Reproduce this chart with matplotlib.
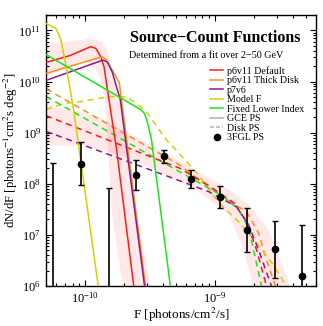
import matplotlib
matplotlib.use('Agg')
import matplotlib.pyplot as plt
from matplotlib.lines import Line2D
from matplotlib.ticker import NullFormatter

plt.rcParams['font.family'] = ['Liberation Serif', 'DejaVu Serif']
plt.rcParams['mathtext.fontset'] = 'stix'

# --- GCE PS source-count functions (solid) ---
default_F = [5.0e-11, 7.7e-11, 1.105e-10, 1.21e-10, 1.32e-10, 1.40e-10, 1.46e-10, 1.75e-10, 2.37e-10]
default_N = [2.36e10, 3.24e10, 4.8e10, 4.44e10, 3.05e10, 1.94e10, 9.4e9, 4.6e8, 1.0e6]

thick_F = [5.0e-11, 1.355e-10, 1.446e-10, 1.616e-10, 1.834e-10, 2.92e-10]
thick_N = [1.44e10, 3.05e10, 2.7e10, 1.67e10, 9.44e9, 1.0e6]

p7v6_F = [5.0e-11, 1.372e-10, 1.48e-10, 1.616e-10, 1.866e-10, 2.871e-10]
p7v6_N = [1.05e10, 2.62e10, 2.43e10, 1.55e10, 4.44e9, 1.0e6]

modelF_F = [5.0e-11, 5.97e-11, 6.53e-11, 6.91e-11, 7.55e-11, 8.24e-11, 1.263e-10]
modelF_N = [1.37e11, 1.09e11, 6.45e10, 3.05e10, 9.15e9, 2.36e9, 1.0e6]

fixed_F = [5.0e-11, 2.676e-10, 2.871e-10, 3.026e-10, 3.246e-10, 4.535e-10]
fixed_N = [3.38e10, 2.83e9, 2.36e9, 1.57e9, 7.3e8, 1.0e6]

# --- Disk PS source-count functions (dashed) ---
default_disk_F = [5.0e-11, 5.31e-10, 9.0e-10, 1.396e-9, 1.754e-9, 2.092e-9, 2.494e-9]
default_disk_N = [2.15e9, 2.03e8, 9.14e7, 4.24e7, 1.8e7, 5.08e6, 1.0e6]

thick_disk_F = [5.0e-11, 5.31e-10, 7.55e-10, 1.171e-9, 1.754e-9, 2.167e-9, 2.494e-9, 2.92e-9]
thick_disk_N = [7.2e9, 2.36e8, 1.2e8, 5.31e7, 2.83e7, 1.09e7, 3.24e6, 1.0e6]

p7v6_disk_F = [5.0e-11, 4.72e-10, 9.0e-10, 1.472e-9, 1.817e-9, 2.167e-9, 2.723e-9]
p7v6_disk_N = [1.06e9, 1.29e8, 6.97e7, 3.54e7, 1.57e7, 5.08e6, 1.0e6]

modelF_disk_F = [5.0e-11, 6.91e-11, 9.27e-11, 1.552e-10, 2.13e-10, 2.957e-10, 4.204e-10,
                 5.01e-10, 7.55e-10, 1.073e-9, 1.524e-9, 2.167e-9, 2.82e-9, 3.544e-9]
modelF_disk_N = [2.83e9, 3.7e9, 4.05e9, 5.08e9, 4.97e9, 2.62e9, 7.3e8,
                 4.64e8, 1.44e8, 4.24e7, 1.8e7, 6.37e6, 2.58e6, 1.0e6]

fixed_disk_F = [5.0e-11, 5.01e-10, 7.55e-10, 1.171e-9, 1.524e-9, 1.817e-9, 2.019e-9, 2.284e-9]
fixed_disk_N = [5.08e9, 1.88e8, 1.05e8, 5.56e7, 3.09e7, 1.37e7, 4.06e6, 1.0e6]

# --- uncertainty bands (p6v11 default) ---
gce_band_F = [5.0e-11, 1.105e-10, 1.355e-10, 1.48e-10, 1.571e-10, 1.85e-10, 2.48e-10, 3.19e-10,
              1.95e-10, 1.599e-10, 1.421e-10, 1.318e-10, 1.213e-10, 9.83e-11, 5.0e-11]
gce_band_N = [5.3e10, 6.97e10, 6.0e10, 4.11e10, 2.26e10, 4.44e9, 3.09e7, 1.0e6,
              1.0e6, 3.09e7, 4.44e9, 1.06e10, 1.72e10, 2.58e10, 1.25e10]

disk_band_F = [5.0e-11, 1.302e-10, 3.135e-10, 7.55e-10, 1.279e-9, 1.817e-9, 2.584e-9, 3.80e-9,
               1.984e-9, 1.607e-9, 1.279e-9, 7.55e-10, 3.737e-10, 1.85e-10, 9.16e-11, 5.0e-11]
disk_band_N = [3.7e9, 1.97e9, 5.82e8, 1.72e8, 7.63e7, 3.87e7, 1.25e7, 1.0e6,
               1.0e6, 6.37e6, 2.47e7, 6.97e7, 1.72e8, 3.71e8, 5.56e8, 5.56e8]

# --- 3FGL point sources ---
fgl_F = [9.27e-11, 2.48e-10, 4.08e-10, 6.59e-10, 1.086e-9, 1.764e-9, 2.885e-9, 4.72e-9]
fgl_N = [2.47e8, 1.5e8, 3.54e8, 1.25e8, 5.48e7, 1.25e7, 5.25e6, 1.57e6]
fgl_hi = [6.46e8, 2.96e8, 4.64e8, 1.88e8, 9.14e7, 3.34e7, 1.9e7, 1.57e7]
fgl_lo = [9.27e7, 7.63e7, 2.55e8, 8.24e7, 3.34e7, 4.71e6, 1.42e6, 1.0e5]

# bins with only an upper value
ul_F = [5.67e-11, 1.525e-10]
ul_hi = [2.55e8, 8.3e7]

x_ticks = [1e-10, 1e-9]
y_ticks = [1e6, 1e7, 1e8, 1e9, 1e10, 1e11]

c_red, c_orange, c_purple = '#ff1a1a', '#ff8c1a', '#8c1a8c'
c_yellow, c_green = '#d2d200', '#1ae61a'

fig = plt.figure(figsize=(3.23, 3.26), dpi=100)
ax = fig.add_axes([0.1424, 0.1227, 0.8359, 0.8313])
ax.set_xscale('log')
ax.set_yscale('log')

ax.fill(gce_band_F, gce_band_N, color='red', alpha=0.09, lw=0, zorder=1)
ax.fill(disk_band_F, disk_band_N, color='red', alpha=0.09, lw=0, zorder=1)

dash = (0, (4, 3))
lw = 1.1
for F, N, c in [(thick_disk_F, thick_disk_N, c_orange), (modelF_disk_F, modelF_disk_N, c_yellow),
                (fixed_disk_F, fixed_disk_N, c_green), (default_disk_F, default_disk_N, c_red),
                (p7v6_disk_F, p7v6_disk_N, c_purple)]:
    ax.plot(F, N, color=c, lw=lw, ls=dash, zorder=2)

l_def, = ax.plot(default_F, default_N, color=c_red, lw=lw, zorder=3)
l_thk, = ax.plot(thick_F, thick_N, color=c_orange, lw=lw, zorder=3)
l_p7, = ax.plot(p7v6_F, p7v6_N, color=c_purple, lw=lw, zorder=3)
l_mf, = ax.plot(modelF_F, modelF_N, color=c_yellow, lw=lw, zorder=3)
l_fx, = ax.plot(fixed_F, fixed_N, color=c_green, lw=lw, zorder=3)

yerr = [[n - lo for n, lo in zip(fgl_N, fgl_lo)], [hi - n for n, hi in zip(fgl_N, fgl_hi)]]
ax.errorbar(fgl_F, fgl_N, yerr=yerr, fmt='o', color='black', ms=4.5,
            elinewidth=1.2, capsize=2, capthick=1.0, zorder=5)
ax.errorbar(ul_F, ul_hi, yerr=[[h - 1e5 for h in ul_hi], [0, 0]], fmt='none',
            ecolor='black', elinewidth=1.2, capsize=2, capthick=1.0, zorder=5)

ax.set_xticks(x_ticks)
ax.set_yticks(y_ticks)
ax.set_xlim(5e-11, 6e-9)
ax.set_ylim(1e6, 2e11)
ax.xaxis.set_minor_formatter(NullFormatter())
ax.yaxis.set_minor_formatter(NullFormatter())

ax.tick_params(which='both', direction='in', top=True, right=True, labelsize=9, width=0.8)
ax.tick_params(which='major', length=4.5)
ax.tick_params(which='minor', length=2.2)
for s in ax.spines.values():
    s.set_linewidth(1.0)

ax.set_xlabel('F [photons/cm$^2$/s]', fontsize=9.5)
ax.set_ylabel('dN/dF [photons$^{-1}$cm$^2$s deg$^{-2}$]', fontsize=9.2)
ax.xaxis.set_label_coords(0.5, -0.075)
ax.yaxis.set_label_coords(-0.098, 0.5)

ax.text(0.626, 0.915, 'Source\u2212Count Functions', transform=ax.transAxes,
        ha='center', va='center', fontsize=11.5, fontweight='bold')
ax.text(0.594, 0.849, 'Determined from a fit over 2\u221250 GeV', transform=ax.transAxes,
        ha='center', va='center', fontsize=7.3)

handles = [l_def, l_thk, l_p7, l_mf, l_fx,
           Line2D([], [], color='#b0b0b0', lw=lw),
           Line2D([], [], color='#b0b0b0', lw=lw, ls=(0, (2.5, 1.5))),
           Line2D([], [], color='black', ls='none', marker='o', ms=4.5)]
labels = ['p6v11 Default', 'p6v11 Thick Disk', 'p7v6', 'Model F', 'Fixed Lower Index',
          'GCE PS', 'Disk PS', '3FGL PS']
ax.legend(handles, labels, loc='upper left', bbox_to_anchor=(0.607, 0.812),
          frameon=False, fontsize=7.2, handlelength=1.35, handletextpad=0.35,
          labelspacing=0.05, borderpad=0, borderaxespad=0)

fig.savefig('out.png', dpi=100)
